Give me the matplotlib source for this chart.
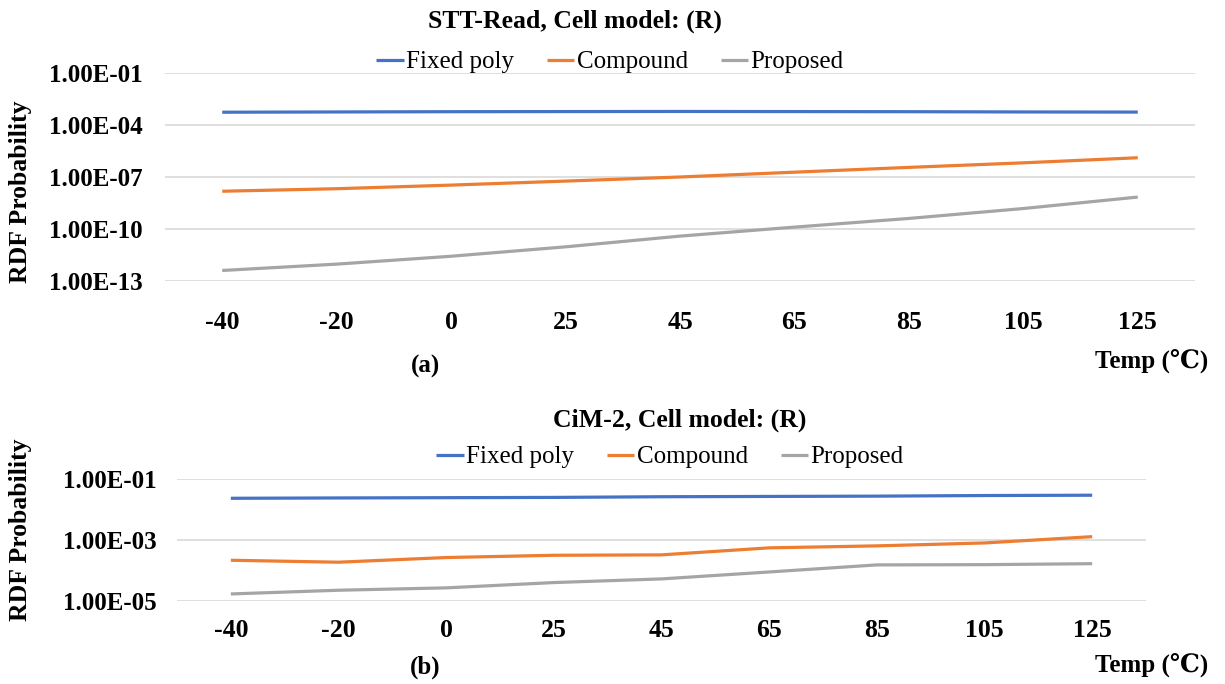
import numpy as np
import matplotlib
matplotlib.use('Agg')
import matplotlib.pyplot as plt
from matplotlib.ticker import FixedLocator, NullLocator

# ------------------------------------------------------------------
# RDF probability vs temperature, two designs
# ------------------------------------------------------------------
temps = ['-40', '-20', '0', '25', '45', '65', '85', '105', '125']
series_names = ['Fixed poly', 'Compound', 'Proposed']

# (a) STT-Read
stt_fixed = [5.6e-4, 5.8e-4, 6.0e-4, 6.1e-4, 6.2e-4, 6.1e-4, 6.0e-4, 5.8e-4, 5.7e-4]
stt_compound = [1.5e-8, 2.1e-8, 3.4e-8, 5.8e-8, 1.0e-7, 1.9e-7, 3.6e-7, 6.6e-7, 1.3e-6]
stt_proposed = [3.9e-13, 9.1e-13, 2.6e-12, 9.1e-12, 3.8e-11, 1.26e-10, 4.0e-10, 1.5e-9, 6.9e-9]
stt_yticks = [1e-1, 1e-4, 1e-7, 1e-10, 1e-13]
stt_ylabels = ['1.00E-01', '1.00E-04', '1.00E-07', '1.00E-10', '1.00E-13']

# (b) CiM-2
cim_fixed = [0.0234, 0.0240, 0.0245, 0.0250, 0.0263, 0.0269, 0.0275, 0.0288, 0.0295]
cim_compound = [2.2e-4, 1.9e-4, 2.7e-4, 3.2e-4, 3.3e-4, 5.6e-4, 6.5e-4, 8.1e-4, 1.3e-3]
cim_proposed = [1.74e-5, 2.3e-5, 2.75e-5, 4.1e-5, 5.4e-5, 9.1e-5, 1.55e-4, 1.58e-4, 1.7e-4]
cim_yticks = [1e-1, 1e-3, 1e-5]
cim_ylabels = ['1.00E-01', '1.00E-03', '1.00E-05']

colors = ['#4472C4', '#ED7D31', '#A5A5A5']
serif = ['Liberation Serif', 'DejaVu Serif', 'Noto Sans CJK JP']

plt.rcParams['font.family'] = serif

W, H = 1225, 684
fig = plt.figure(figsize=(W / 100, H / 100), dpi=100)


def px_rect(left, top, right, bottom):
    return [left / W, 1 - bottom / H, (right - left) / W, (bottom - top) / H]


def draw_panel(rect, data, yticks, ylabels, ylim, xpad, ypad):
    ax = fig.add_axes(rect)
    x = np.arange(len(temps))
    lines = []
    for vals, c, name in zip(data, colors, series_names):
        ln, = ax.plot(x, vals, color=c, lw=2.3, label=name, solid_capstyle='butt')
        lines.append(ln)
    ax.set_yscale('log')
    ax.set_ylim(*ylim)
    ax.set_xlim(-0.5, len(temps) - 0.5)
    ax.yaxis.set_major_locator(FixedLocator(yticks))
    ax.yaxis.set_minor_locator(NullLocator())
    ax.set_yticklabels(ylabels)
    ax.set_xticks(x)
    ax.set_xticklabels(temps)
    ax.grid(axis='y', color='#D9D9D9', lw=1.2)
    ax.set_axisbelow(True)
    for s in ax.spines.values():
        s.set_visible(False)
    ax.tick_params(axis='both', length=0)
    ax.tick_params(axis='x', pad=xpad, labelsize=18.5)
    ax.tick_params(axis='y', pad=ypad, labelsize=18)
    for t in ax.get_xticklabels() + ax.get_yticklabels():
        t.set_fontweight('bold')
    return ax, lines


ax1, lines1 = draw_panel(px_rect(165, 73.3, 1195, 280.7),
                         [stt_fixed, stt_compound, stt_proposed],
                         stt_yticks, stt_ylabels, (1e-13, 1e-1), 22, 16)
ax2, lines2 = draw_panel(px_rect(177, 479, 1146, 601.3),
                         [cim_fixed, cim_compound, cim_proposed],
                         cim_yticks, cim_ylabels, (1e-5, 1e-1), 13, 15)

# titles, legends, axis captions
fig.text(575 / W, 1 - 21 / H, 'STT-Read, Cell model: (R)', ha='center', va='center',
         fontsize=18.5, fontweight='bold')
fig.text(680 / W, 1 - 420 / H, 'CiM-2, Cell model: (R)', ha='center', va='center',
         fontsize=18.5, fontweight='bold')

for lines, cx, cy in [(lines1, 610, 62), (lines2, 670, 457)]:
    fig.legend(handles=lines, loc='center', bbox_to_anchor=(cx / W, 1 - cy / H),
               ncol=3, frameon=False, fontsize=18, handlelength=1.1,
               handletextpad=0.1, columnspacing=1.3, borderpad=0)

for cy in (192, 530):
    fig.text(20 / W, 1 - cy / H, 'RDF Probability', rotation=90, ha='center',
             va='center', fontsize=18.5, fontweight='bold')

fig.text(425 / W, 1 - 366 / H, '(a)', ha='center', va='center', fontsize=18, fontweight='bold')
fig.text(425 / W, 1 - 667 / H, '(b)', ha='center', va='center', fontsize=18, fontweight='bold')
fig.text(1208 / W, 1 - 362 / H, 'Temp (\u2103)', ha='right', va='center', fontsize=18,
         fontweight='bold')
fig.text(1208 / W, 1 - 666 / H, 'Temp (\u2103)', ha='right', va='center', fontsize=18,
         fontweight='bold')

fig.savefig('out.png', dpi=100)
